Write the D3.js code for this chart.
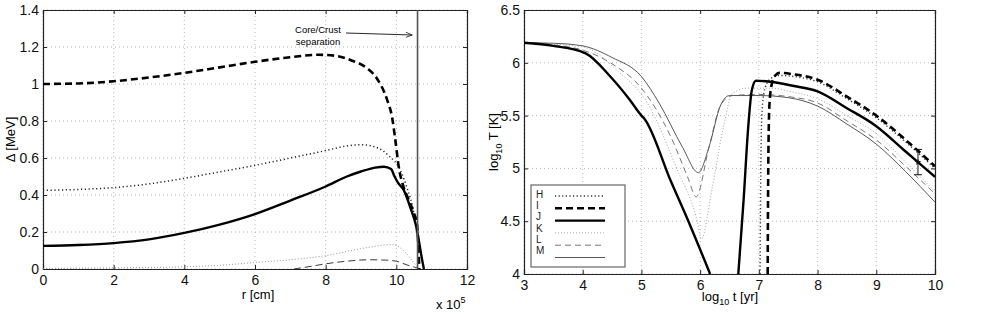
<!DOCTYPE html>
<html>
<head>
<meta charset="utf-8">
<script src="https://cdn.jsdelivr.net/npm/d3@7"></script>
<style>
body { margin: 0; background: #fff; }
svg { font-family: "Liberation Sans", Arial, sans-serif; }
</style>
</head>
<body>
<svg id="fig" width="981" height="320"></svg>
<script>
// left panel: gap energy vs radius
var rTicks = [0, 2, 4, 6, 8, 10, 12]
var gapTicks = [0, 0.2, 0.4, 0.6, 0.8, 1, 1.2, 1.4]
var gapThickDash = [[0,1.0],[1,1.003],[2,1.015],[3,1.035],[4,1.06],[5,1.09],[6,1.12],[7,1.145],[7.8,1.158],[8.3,1.152],[8.7,1.13],[9.17,1.085],[9.45,1.03],[9.74,0.914],[9.88,0.82],[9.97,0.7],[10.07,0.55],[10.2,0.446],[10.35,0.374],[10.5,0.3],[10.58,0.25],[10.65,0.0]]
var gapDotDark = [[0,0.425],[1,0.43],[2,0.44],[3,0.46],[4,0.49],[5,0.525],[6,0.56],[7,0.6],[8,0.64],[8.6,0.665],[9,0.672],[9.4,0.66],[9.8,0.61],[10.1,0.54],[10.3,0.44],[10.5,0.3],[10.65,0.1]]
var gapSolid = [[0,0.125],[1,0.13],[2,0.14],[3,0.16],[4,0.195],[5,0.24],[6,0.297],[7,0.37],[8,0.446],[8.6,0.5],[9,0.527],[9.4,0.548],[9.65,0.553],[9.85,0.54],[9.95,0.5],[10.05,0.465],[10.2,0.43],[10.4,0.33],[10.55,0.24],[10.65,0.14],[10.72,0.06],[10.78,0.0]]
var gapDotThin = [[0,0.003],[2,0.006],[4,0.012],[5,0.02],[6,0.035],[7,0.05],[8,0.072],[9,0.11],[9.9,0.132],[10.2,0.1],[10.45,0.045],[10.65,0.0]]
var gapDashThin = [[7.1,0.0],[7.6,0.015],[8,0.028],[8.6,0.042],[9.2,0.05],[9.7,0.048],[10,0.042],[10.3,0.022],[10.55,0.008],[10.7,0.0]]
var coreCrustR = 10.6

// right panel: cooling curves
var tTicks = [3, 4, 5, 6, 7, 8, 9, 10]
var TTicks = [4, 4.5, 5, 5.5, 6, 6.5]
var curveH = [[7.02,4.0],[7.03,4.8],[7.05,5.5],[7.1,5.75],[7.2,5.85],[7.35,5.88],[7.6,5.87],[8,5.82],[8.5,5.66],[9,5.48],[9.5,5.25],[10,5.0]]
var curveI = [[7.15,4.0],[7.16,5.0],[7.18,5.6],[7.22,5.8],[7.28,5.88],[7.35,5.905],[7.6,5.89],[8,5.84],[8.5,5.68],[9,5.5],[9.5,5.27],[10,5.02]]
var curveJ1 = [[3,6.19],[3.5,6.16],[4.05,6.09],[4.47,5.87],[4.8,5.65],[5.0,5.5],[5.05,5.47],[5.5,4.88],[5.83,4.46],[6.17,4.0]]
var curveJ2 = [[6.65,4.0],[6.74,4.7],[6.82,5.4],[6.88,5.74],[6.95,5.83],[7.2,5.82],[7.6,5.78],[8,5.73],[8.5,5.57],[9,5.4],[9.5,5.16],[10,4.92]]
var curveK = [[3,6.19],[4,6.15],[4.6,5.92],[5.1,5.62],[5.6,5.0],[5.95,4.5],[6.02,4.33],[6.2,4.8],[6.4,5.4],[6.55,5.71],[6.8,5.76],[7.2,5.76],[7.6,5.72],[8,5.66],[8.5,5.5],[9,5.33],[9.5,5.06],[10,4.78]]
var curveL = [[3,6.19],[3.5,6.17],[4,6.12],[4.5,5.99],[5.0,5.76],[5.5,5.3],[5.8,4.9],[5.93,4.73],[6.15,5.2],[6.35,5.6],[6.55,5.69],[7,5.7],[7.5,5.68],[8,5.62],[8.5,5.45],[9,5.27],[9.5,5.02],[10,4.76]]
var curveM = [[3,6.19],[3.5,6.185],[4,6.16],[4.5,6.05],[5.0,5.87],[5.3,5.62],[5.7,5.2],[5.97,4.96],[6.15,5.2],[6.35,5.6],[6.5,5.69],[7,5.69],[7.5,5.67],[8,5.59],[8.5,5.42],[9,5.23],[9.5,4.97],[10,4.68]]
var obsT = 9.71, obsLo = 4.94, obsMid = 5.06, obsHi = 5.18
var legendNames = ["H", "I", "J", "K", "L", "M"]

var svg = d3.select("#fig")

function panel(g, x, y, xt, yt, fmtY) {
  g.append("g").selectAll("line.gx").data(xt).enter().append("line")
    .attr("x1", function(d){return x(d)}).attr("x2", function(d){return x(d)})
    .attr("y1", y.range()[0]).attr("y2", y.range()[1])
    .attr("stroke", "#999").attr("stroke-width", 0.7).attr("stroke-dasharray", "1,3")
  g.append("g").selectAll("line.gy").data(yt).enter().append("line")
    .attr("y1", function(d){return y(d)}).attr("y2", function(d){return y(d)})
    .attr("x1", x.range()[0]).attr("x2", x.range()[1])
    .attr("stroke", "#999").attr("stroke-width", 0.7).attr("stroke-dasharray", "1,3")
  var bottom = d3.axisBottom(x).tickValues(xt).tickSize(-4).tickPadding(6).tickFormat(d3.format("d"))
  var left = d3.axisLeft(y).tickValues(yt).tickSize(-4).tickPadding(4).tickFormat(fmtY)
  var gb = g.append("g").attr("transform", "translate(0," + y.range()[0] + ")").call(bottom)
  var gl = g.append("g").attr("transform", "translate(" + x.range()[0] + ",0)").call(left)
  var gt = g.append("g").attr("transform", "translate(0," + y.range()[1] + ")").call(d3.axisTop(x).tickValues(xt).tickSize(-4).tickFormat(""))
  var gr = g.append("g").attr("transform", "translate(" + x.range()[1] + ",0)").call(d3.axisRight(y).tickValues(yt).tickSize(-4).tickFormat(""))
  ;[gb, gl, gt, gr].forEach(function(a){
    a.selectAll("path").attr("stroke", "#222").attr("stroke-width", 1.2)
    a.selectAll("line").attr("stroke", "#222")
    a.selectAll("text").attr("font-size", 14).attr("fill", "#111").attr("font-family", "Liberation Sans, Arial, sans-serif")
  })
}

function draw(g, x, y, pts, color, w, dash) {
  var line = d3.line().x(function(d){return x(d[0])}).y(function(d){return y(d[1])}).curve(d3.curveMonotoneX)
  g.append("path").attr("d", line(pts)).attr("fill", "none")
    .attr("stroke", color).attr("stroke-width", w)
    .attr("stroke-dasharray", dash || null)
}

// ---- left
var xL = d3.scaleLinear().domain([0, 12]).range([43, 467])
var yL = d3.scaleLinear().domain([0, 1.4]).range([269, 10])
var gL = svg.append("g")
panel(gL, xL, yL, rTicks, gapTicks, function(d){return d === 0 || d === 1 ? d3.format("d")(d) : d3.format(".1f")(d)})

draw(gL, xL, yL, gapDotThin, "#888", 0.9, "1,2")
draw(gL, xL, yL, gapDashThin, "#222", 0.9, "7,4")
draw(gL, xL, yL, gapDotDark, "#222", 1.5, "1.2,2.6")
draw(gL, xL, yL, gapThickDash, "#000", 2.6, "7,4")
draw(gL, xL, yL, gapSolid, "#000", 2.4)

gL.append("line").attr("x1", xL(coreCrustR)).attr("x2", xL(coreCrustR))
  .attr("y1", yL(0)).attr("y2", yL(1.4)).attr("stroke", "#555").attr("stroke-width", 1.6)

svg.append("defs").append("marker").attr("id", "arr").attr("viewBox", "0 0 10 10")
  .attr("refX", 10).attr("refY", 5).attr("markerWidth", 9).attr("markerHeight", 7).attr("orient", "auto")
  .append("path").attr("d", "M0,1 L10,5 L0,9").attr("fill", "none").attr("stroke", "#111").attr("stroke-width", 1.2)
gL.append("line").attr("x1", 346).attr("x2", xL(10.45)).attr("y1", 33).attr("y2", 35)
  .attr("stroke", "#111").attr("stroke-width", 0.9).attr("marker-end", "url(#arr)")
gL.append("text").attr("x", 318).attr("y", 33).attr("text-anchor", "middle").attr("font-size", 9.5).text("Core/Crust")
gL.append("text").attr("x", 318).attr("y", 45).attr("text-anchor", "middle").attr("font-size", 9.5).text("separation")

gL.append("text").attr("x", xL(6) + 3).attr("y", 299).attr("text-anchor", "middle").attr("font-size", 13).text("r [cm]")
gL.append("text").attr("transform", "translate(15," + yL(0.7) + ") rotate(-90)").attr("text-anchor", "middle").attr("font-size", 13).text("\u0394 [MeV]")
var ex = gL.append("text").attr("x", 436).attr("y", 309).attr("font-size", 13)
ex.append("tspan").text("x 10")
ex.append("tspan").attr("dy", -6).attr("font-size", 9).text("5")

// ---- right
var xR = d3.scaleLinear().domain([3, 10]).range([524, 935])
var yR = d3.scaleLinear().domain([4, 6.5]).range([274, 10])
var gR = svg.append("g")
panel(gR, xR, yR, tTicks, TTicks, function(d){return d % 1 === 0 ? d3.format("d")(d) : d3.format(".1f")(d)})

svg.select("defs").append("clipPath").attr("id", "clipR").append("rect")
  .attr("x", 524).attr("y", 10).attr("width", 411).attr("height", 264)
var cR = gR.append("g").attr("clip-path", "url(#clipR)")

var styles = [
  {pts: [curveH], color: "#333", w: 1.4, dash: "1.2,2.4"},
  {pts: [curveI], color: "#000", w: 2.6, dash: "7,4"},
  {pts: [curveJ1, curveJ2], color: "#000", w: 2.4, dash: null},
  {pts: [curveK], color: "#999", w: 0.9, dash: "1,2"},
  {pts: [curveL], color: "#666", w: 0.9, dash: "6,4"},
  {pts: [curveM], color: "#444", w: 0.9, dash: null}
]
;[5, 4, 3, 0, 1, 2].forEach(function(k){
  styles[k].pts.forEach(function(p){ draw(cR, xR, yR, p, styles[k].color, styles[k].w, styles[k].dash) })
})

// observation with error bar
gR.append("line").attr("x1", xR(obsT)).attr("x2", xR(obsT)).attr("y1", yR(obsLo)).attr("y2", yR(obsHi)).attr("stroke", "#111").attr("stroke-width", 1)
;[obsLo, obsHi].forEach(function(v){
  gR.append("line").attr("x1", xR(obsT) - 4).attr("x2", xR(obsT) + 4).attr("y1", yR(v)).attr("y2", yR(v)).attr("stroke", "#111").attr("stroke-width", 1)
})
gR.append("path").attr("d", d3.symbol(d3.symbolStar, 14)()).attr("transform", "translate(" + xR(obsT) + "," + yR(obsMid) + ")").attr("fill", "#111")

// legend
var lg = gR.append("g")
lg.append("rect").attr("x", 531).attr("y", 185).attr("width", 94).attr("height", 82).attr("fill", "#fff").attr("stroke", "#666").attr("stroke-width", 1.2)
legendNames.forEach(function(n, i){
  lg.append("text").attr("x", 536).attr("y", 198 + i * 11.2).attr("font-size", 10).attr("fill", "#222").text(n)
  lg.append("line").attr("x1", 555).attr("x2", 605).attr("y1", 196 + i * 12.3).attr("y2", 196 + i * 12.3)
    .attr("stroke", styles[i].color).attr("stroke-width", styles[i].w).attr("stroke-dasharray", styles[i].dash)
})

var xl = gR.append("text").attr("x", 730).attr("y", 301).attr("text-anchor", "middle").attr("font-size", 13)
xl.append("tspan").text("log")
xl.append("tspan").attr("dy", 4).attr("font-size", 9).text("10")
xl.append("tspan").attr("dy", -4).text(" t [yr]")
var yl = gR.append("text").attr("transform", "translate(498," + yR(5.25) + ") rotate(-90)").attr("text-anchor", "middle").attr("font-size", 13)
yl.append("tspan").text("log")
yl.append("tspan").attr("dy", 4).attr("font-size", 9).text("10")
yl.append("tspan").attr("dy", -4).text(" T [K]")
</script>
</body>
</html>
